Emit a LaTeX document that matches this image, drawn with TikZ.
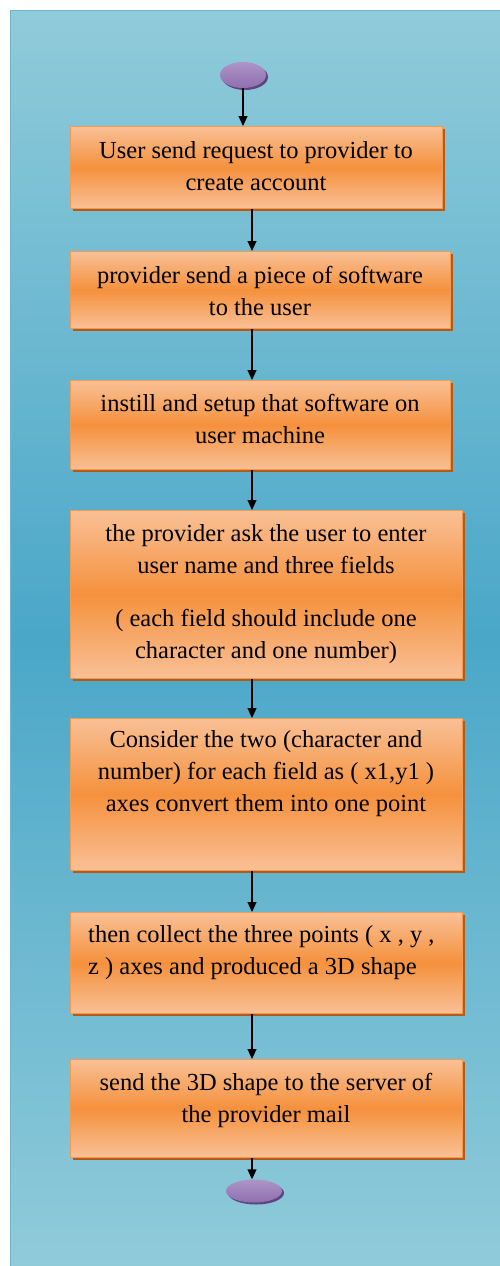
\documentclass[tikz,border=0pt]{standalone}
\usepackage{fontspec}
\setmainfont{Liberation Serif}
\usetikzlibrary{arrows.meta,shadows,shapes.geometric}
\definecolor{bgtop}{HTML}{90CBDA}
\definecolor{bgmid}{HTML}{4AA7C8}
\definecolor{bgline}{HTML}{6DB6CE}
\definecolor{boxlight}{HTML}{F9C096}
\definecolor{boxmid}{HTML}{F5913D}
\definecolor{boxline}{HTML}{F29A52}
\definecolor{boxshadow}{HTML}{B65A18}
\definecolor{ovfill}{HTML}{8E70AE}
\definecolor{ovlight}{HTML}{AE94C8}
\definecolor{ovshadow}{HTML}{5E4580}
\begin{document}
\begin{tikzpicture}[x=1pt,y=1pt,
  stepbox/.style={rectangle, draw=boxline, line width=0.8pt, top color=boxlight, bottom color=boxlight, middle color=boxmid, inner sep=0pt, anchor=north west, general shadow={fill=boxshadow, shadow xshift=3pt, shadow yshift=-3pt}},
  txt/.style={font=\fontsize{24.5}{32}\selectfont, align=center, inner sep=0pt, text=black},
  term/.style={ellipse, draw=none, top color=ovlight, bottom color=ovfill, inner sep=0pt, general shadow={fill=ovshadow, shadow xshift=2pt, shadow yshift=-2pt}},
  arr/.style={-{Triangle[width=9pt,length=10pt]}, line width=1.1pt, black}]
\useasboundingbox (0,0) rectangle (500,-1266);
\fill[top color=bgtop, bottom color=bgtop, middle color=bgmid] (10,-10) rectangle (500,-1266);
\draw[bgline, line width=1.2pt] (10.6,-1266) -- (10.6,-10.6) -- (500,-10.6);
% terminals
\node[term, minimum width=46pt, minimum height=26pt] (e1) at (243,-75) {};
\node[term, minimum width=56pt, minimum height=23pt] (e2) at (254,-1191) {};
% boxes
\node[stepbox, minimum width=372pt, minimum height=82pt] (b1) at (70,-126) {};
\node[stepbox, minimum width=380pt, minimum height=77pt] (b2) at (70,-251) {};
\node[stepbox, minimum width=380pt, minimum height=89pt] (b3) at (70,-380) {};
\node[stepbox, minimum width=392pt, minimum height=168pt] (b4) at (70,-510) {};
\node[stepbox, minimum width=392pt, minimum height=152pt] (b5) at (70,-718) {};
\node[stepbox, minimum width=392pt, minimum height=101pt] (b6) at (70,-912) {};
\node[stepbox, minimum width=392pt, minimum height=98pt] (b7) at (70,-1059) {};
% texts
\node[txt] (t1) at (256,-166.5) {User send request to provider to\\create account};
\node[txt] (t2) at (260,-291) {provider send a piece of software\\to the user};
\node[txt] (t3) at (260,-419) {instill and setup that software on\\user machine};
\node[txt] (t4a) at (266,-549) {the provider ask the user to enter\\user name and three fields};
\node[txt] (t4b) at (266,-636.5) {( each field should include one\\character and one number)};
\node[txt] (t5) at (266,-773.5) {Consider the two (character and\\number) for each field as ( x1,y1 )\\axes convert them into one point};
\node[txt, align=left, anchor=west] (t6) at (88,-952.5) {then collect the three points ( x , y ,\\z ) axes and produced a 3D shape};
\node[txt] (t7) at (266,-1100) {send the 3D shape to the server of\\the provider mail};
% connectors
\coordinate (ax) at (252,0);
\draw[arr] (e1.south) -- (e1.south |- b1.north);
\draw[arr] (b1.south -| ax) -- (b2.north -| ax);
\draw[arr] (b2.south -| ax) -- (b3.north -| ax);
\draw[arr] (b3.south -| ax) -- (b4.north -| ax);
\draw[arr] (b4.south -| ax) -- (b5.north -| ax);
\draw[arr] (b5.south -| ax) -- (b6.north -| ax);
\draw[arr] (b6.south -| ax) -- (b7.north -| ax);
\draw[arr] (b7.south -| ax) -- (e2.north -| ax);
\end{tikzpicture}
\end{document}
